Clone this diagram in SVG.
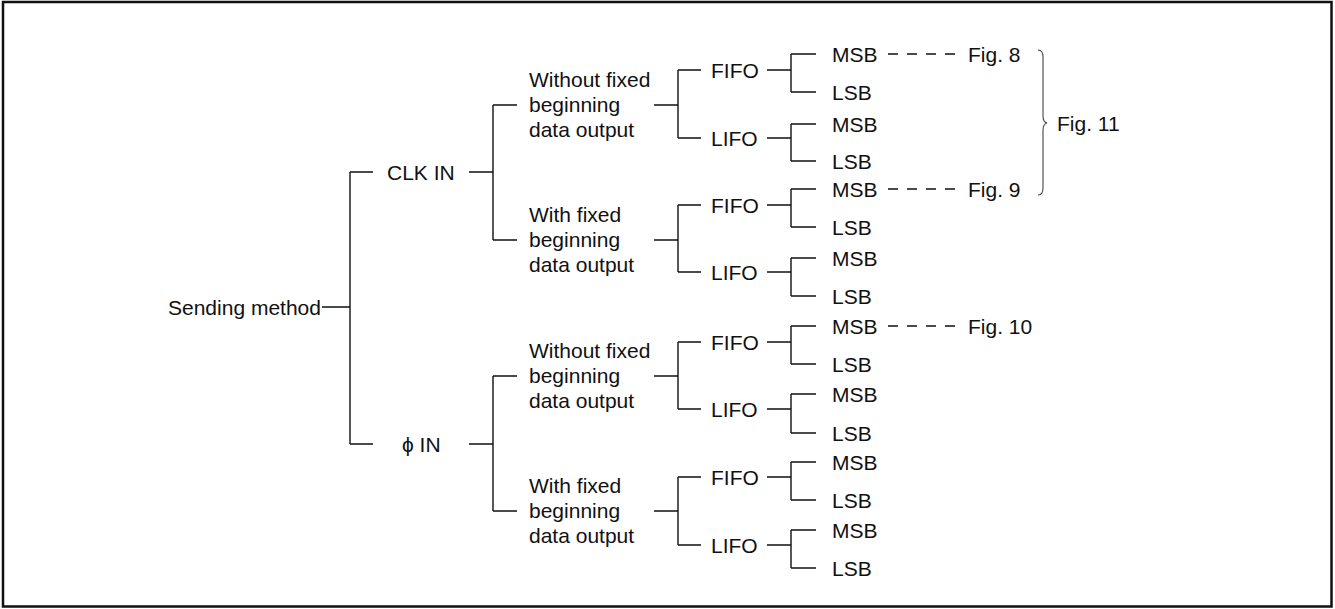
<svg xmlns="http://www.w3.org/2000/svg" width="1335" height="609" viewBox="0 0 1335 609">
<style>
text{font-family:"Liberation Sans",Arial,sans-serif;font-size:21px;fill:#111}
.c{fill:none;stroke:#111;stroke-width:1.4}
.d{fill:none;stroke:#111;stroke-width:1.4;stroke-dasharray:10 9}
.b{fill:none;stroke:#444;stroke-width:1.1}
</style>
<rect x="3" y="2" width="1328.5" height="604.5" fill="#fff" stroke="#111" stroke-width="2.5"/>
<g id="connectors">
<path class="c" d="M322,307H350M350,172V444M350,172H373M350,444H373M469,172H493M469,444H493"/>
<path class="c" d="M493,105V240M493,105H517M493,240H517M493,376V511M493,376H517M493,511H517"/>
<path class="c" d="M654,105H678M654,240H678M654,376H678M654,511H678"/>
<path class="c" d="M678,70V138M678,70H701M678,138H701M678,205V272M678,205H701M678,272H701M678,342V409M678,342H701M678,409H701M678,477V545M678,477H701M678,545H701"/>
<path class="c" d="M767,70H791M767,138H791M767,205H791M767,272H791M767,342H791M767,409H791M767,477H791M767,545H791"/>
<path class="c" d="M791,54V92M791,54H816M791,92H816M791,124V161M791,124H816M791,161H816M791,189V227M791,189H816M791,227H816M791,258V296M791,258H816M791,296H816M791,326V364M791,326H816M791,364H816M791,394V433M791,394H816M791,433H816M791,462V500M791,462H816M791,500H816M791,530V568M791,530H816M791,568H816"/>
<path class="d" d="M888,54H955M888,189H955M888,326H955"/>
<path class="b" d="M1038,50Q1043,50 1043,57V116Q1043,122 1047,123Q1043,124 1043,130V188Q1043,195 1038,195"/>
</g>
<g id="root"><text x="168" y="315">Sending method</text></g>
<g id="clk-in"><text x="387" y="180">CLK IN</text></g>
<g id="phi-in"><text x="402" y="452">ϕ IN</text></g>
<g id="clk-without"><text x="529" y="87">Without fixed</text><text x="529" y="112">beginning</text><text x="529" y="137">data output</text></g>
<g id="clk-with"><text x="529" y="222">With fixed</text><text x="529" y="247">beginning</text><text x="529" y="272">data output</text></g>
<g id="phi-without"><text x="529" y="358">Without fixed</text><text x="529" y="383">beginning</text><text x="529" y="408">data output</text></g>
<g id="phi-with"><text x="529" y="493">With fixed</text><text x="529" y="518">beginning</text><text x="529" y="543">data output</text></g>
<g id="order1"><text x="711" y="78">FIFO</text></g>
<g id="order2"><text x="711" y="146">LIFO</text></g>
<g id="order3"><text x="711" y="213">FIFO</text></g>
<g id="order4"><text x="711" y="280">LIFO</text></g>
<g id="order5"><text x="711" y="350">FIFO</text></g>
<g id="order6"><text x="711" y="417">LIFO</text></g>
<g id="order7"><text x="711" y="485">FIFO</text></g>
<g id="order8"><text x="711" y="553">LIFO</text></g>
<g id="bits1"><text x="832" y="62">MSB</text><text x="832" y="100">LSB</text></g>
<g id="bits2"><text x="832" y="132">MSB</text><text x="832" y="169">LSB</text></g>
<g id="bits3"><text x="832" y="197">MSB</text><text x="832" y="235">LSB</text></g>
<g id="bits4"><text x="832" y="266">MSB</text><text x="832" y="304">LSB</text></g>
<g id="bits5"><text x="832" y="334">MSB</text><text x="832" y="372">LSB</text></g>
<g id="bits6"><text x="832" y="402">MSB</text><text x="832" y="441">LSB</text></g>
<g id="bits7"><text x="832" y="470">MSB</text><text x="832" y="508">LSB</text></g>
<g id="bits8"><text x="832" y="538">MSB</text><text x="832" y="576">LSB</text></g>
<g id="fig8"><text x="968" y="62">Fig. 8</text></g>
<g id="fig9"><text x="968" y="197">Fig. 9</text></g>
<g id="fig10"><text x="968" y="334">Fig. 10</text></g>
<g id="fig11"><text x="1057" y="131">Fig. 11</text></g>
</svg>
